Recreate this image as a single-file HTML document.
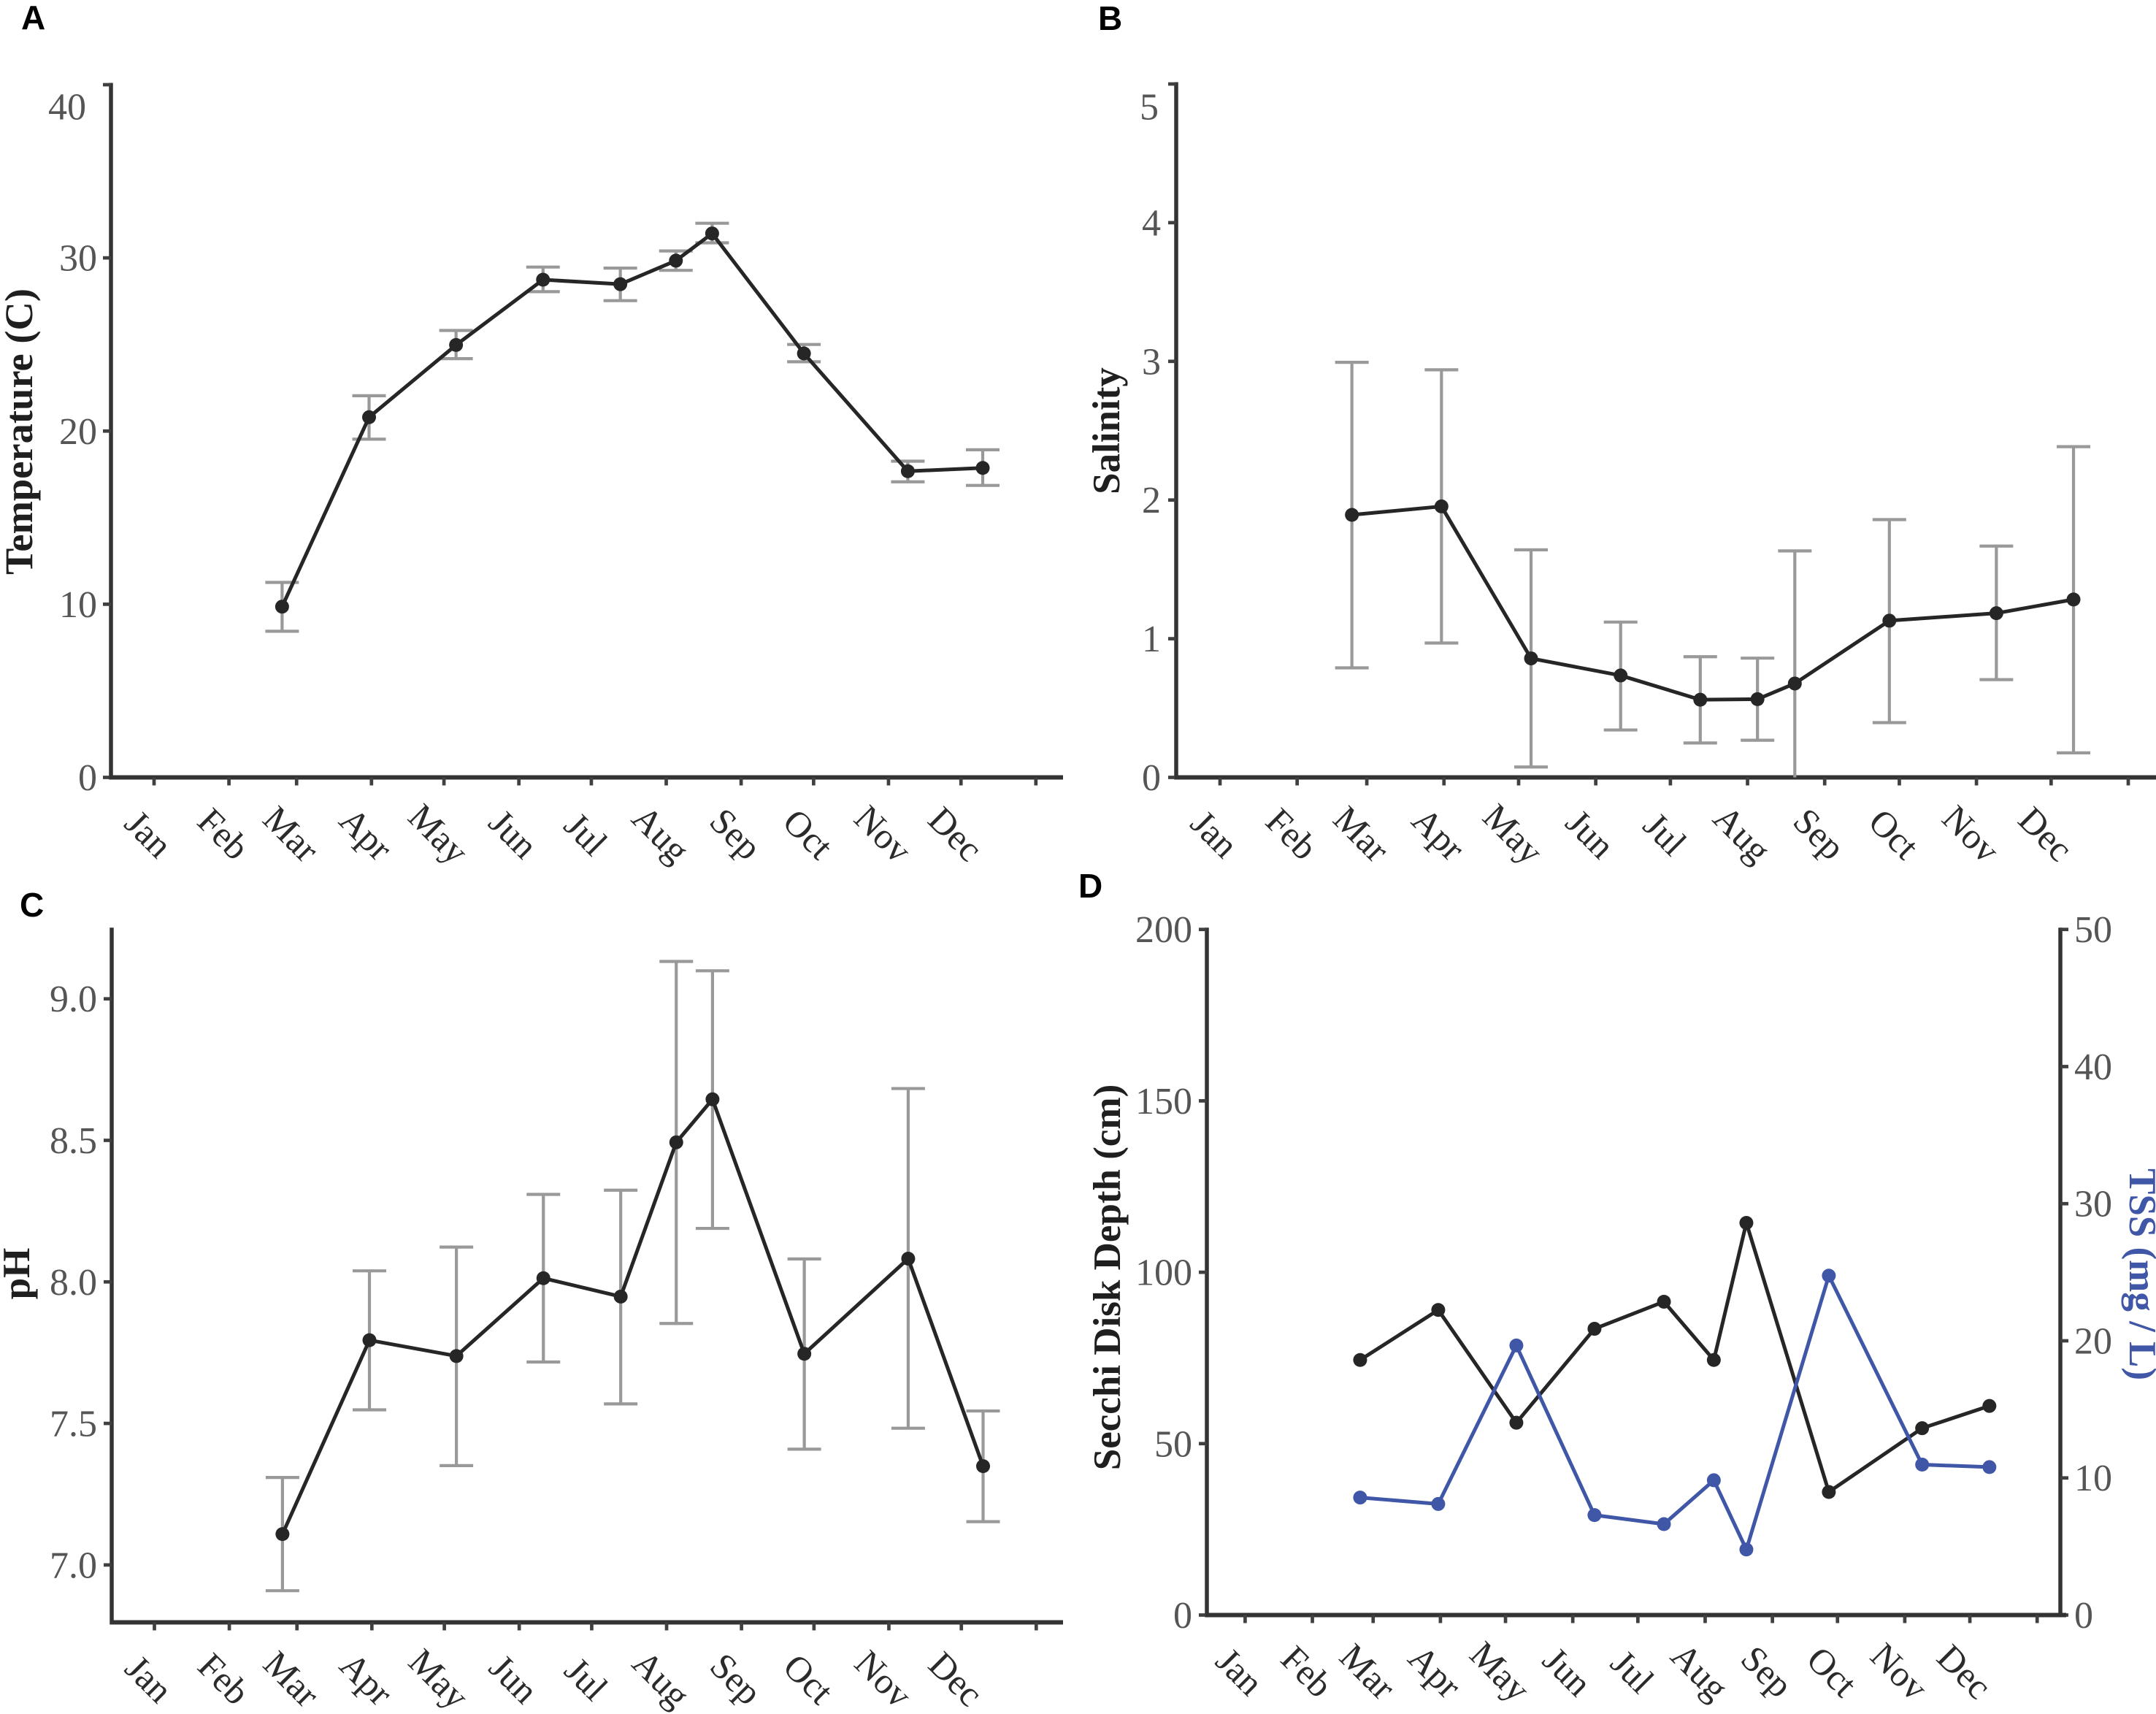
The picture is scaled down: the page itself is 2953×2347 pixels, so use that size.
<!DOCTYPE html>
<html lang="en">
<head>
<meta charset="utf-8">
<title>Monthly water quality panels</title>
<style>
  html, body { margin: 0; padding: 0; background: #ffffff; }
  svg { display: block; }
  text { font-family: "Liberation Serif", "Times New Roman", serif; }
  .panel-letter { font-family: "Liberation Sans", Arial, sans-serif; font-weight: bold; font-size: 46px; fill: #000; }
  .axis-title { font-weight: bold; font-size: 53px; fill: #1f1f1f; }
  .tick-label { font-size: 52px; fill: #555555; }
  .month-label { font-size: 50px; fill: #2b2b2b; }
</style>
</head>
<body>
<svg id="figure" xmlns="http://www.w3.org/2000/svg" width="2953" height="2347" viewBox="0 0 2953 2347">
  <rect x="0" y="0" width="2953" height="2347" fill="#ffffff"/>
  <text class="panel-letter" x="29" y="40">A</text>
  <text class="panel-letter" x="1504" y="41">B</text>
  <text class="panel-letter" x="27" y="1255">C</text>
  <text class="panel-letter" x="1477" y="1229">D</text>

  <text class="axis-title" text-anchor="middle" style="font-size:54.5px" transform="translate(44 591) rotate(-90)">Temperature (C)</text>
  <text class="axis-title" text-anchor="middle" transform="translate(1533 590) rotate(-90)">Salinity</text>
  <text class="axis-title" text-anchor="middle" transform="translate(40 1744) rotate(-90)">pH</text>
  <text class="axis-title" text-anchor="middle" transform="translate(1534 1749) rotate(-90)">Secchi Disk Depth (cm)</text>
  <text class="axis-title" text-anchor="middle" style="fill:#3f57a6" transform="translate(2917 1745) rotate(90)">TSS (mg / L)</text>
</svg>
<script>
// ---- shared categories ----
var monthLabels = ["Jan", "Feb", "Mar", "Apr", "May", "Jun", "Jul", "Aug", "Sep", "Oct", "Nov", "Dec"];
var monthStartDays = [0, 31, 59, 90, 120, 151, 181, 212, 243, 273, 304, 334, 365];
var sampleDays = [53, 89, 125, 161, 193, 216, 231, 269, 312, 343];

// ---- panel A: temperature ----
var tempTicks = [0, 10, 20, 30, 40];
var tempMean = [9.86, 20.8, 24.97, 28.74, 28.48, 29.84, 31.41, 24.48, 17.68, 17.87];
var tempUpper = [11.26, 22.04, 25.81, 29.47, 29.41, 30.4, 32.0, 25.0, 18.26, 18.92];
var tempLower = [8.44, 19.53, 24.18, 28.05, 27.53, 29.28, 30.87, 24.0, 17.07, 16.86];

// ---- panel B: salinity ----
var salinityTicks = [0, 1, 2, 3, 4, 5];
var salinityMean = [1.893, 1.954, 0.858, 0.735, 0.56, 0.564, 0.677, 1.13, 1.184, 1.283];
var salinityUpper = [2.993, 2.939, 1.641, 1.12, 0.87, 0.86, 1.633, 1.859, 1.668, 2.385];
var salinityLower = [0.79, 0.969, 0.075, 0.342, 0.248, 0.268, -0.28, 0.395, 0.705, 0.177];

// ---- panel C: pH ----
var phTicks = ["7.0", "7.5", "8.0", "8.5", "9.0"];
var phMean = [7.109, 7.794, 7.738, 8.013, 7.948, 8.493, 8.645, 7.746, 8.082, 7.349];
var phUpper = [7.309, 8.039, 8.123, 8.309, 8.324, 9.132, 9.099, 8.081, 8.683, 7.544];
var phLower = [6.909, 7.548, 7.351, 7.717, 7.569, 7.853, 8.189, 7.409, 7.483, 7.153];

// ---- panel D: secchi depth and TSS ----
var secchiTicks = [0, 50, 100, 150, 200];
var tssTicks = [0, 10, 20, 30, 40, 50];
var secchiDepth = [74.4, 89, 56.1, 83.5, 91.4, 74.4, 114.4, 35.9, 54.5, 61];
var tssValues = [8.57, 8.1, 19.66, 7.29, 6.63, 9.83, 4.78, 24.75, 10.97, 10.79];

var svg = document.getElementById('figure');
var NS = 'http://www.w3.org/2000/svg';
var AXIS = '#333333', TICK = '#404040', LINE = '#262626', ERR = '#999999', BLUE = '#3f57a6';

function make(tag, attrs, parent) {
  var el = document.createElementNS(NS, tag);
  for (var k in attrs) { el.setAttribute(k, attrs[k]); }
  parent.appendChild(el);
  return el;
}

function linear(d0, d1, r0, r1) {
  return function (v) { return r0 + (v - d0) * (r1 - r0) / (d1 - d0); };
}

function drawXAxis(g, p, x) {
  var line = make('line', { x1: p.axisX - 2, x2: p.xEnd, y1: p.baseY, y2: p.baseY, stroke: AXIS, 'stroke-width': 6 }, g);
  
  
  monthStartDays.forEach(function (day, i) {
    var tick = make('line', { x1: x(day), x2: x(day), y1: p.baseY, y2: p.baseY + 11, stroke: TICK, 'stroke-width': 4.7 }, g);
    
    
    if (i < monthLabels.length) {
      var label = make('text', {
        'class': 'month-label', 'text-anchor': 'middle',
        transform: 'translate(' + (x(day) - 8) + ' ' + (p.baseY + 78) + ') rotate(45)', y: 16
      }, g);
      
      
      label.textContent = monthLabels[i];
    }
  });
}

function drawYAxis(g, axisX, top, bottom, ticks, y, side, anchorX, topShiftX, topShiftY, name) {
  var line = make('line', { x1: axisX, x2: axisX, y1: top - 2.5, y2: bottom + 3, stroke: AXIS, 'stroke-width': 5.5 }, g);
  
  
  ticks.forEach(function (t, i) {
    var py = y(parseFloat(t));
    var tick = make('line', { x1: axisX, x2: axisX + side * 11, y1: py, y2: py, stroke: TICK, 'stroke-width': 4.7 }, g);
    
    
    var last = i === ticks.length - 1;
    var label = make('text', {
      'class': 'tick-label',
      'text-anchor': side < 0 ? 'end' : 'start',
      x: anchorX + (last ? topShiftX : 0),
      y: py + 17.5 + (last ? topShiftY : 0)
    }, g);
    
    
    label.textContent = t;
  });
}

function drawErrors(g, days, upper, lower, x, y, zeroY) {
  days.forEach(function (day, i) {
    var px = x(day);
    var yHi = y(upper[i]);
    var yLo = y(lower[i]);
    var stem = make('line', { x1: px, x2: px, y1: yHi, y2: Math.min(yLo, zeroY), stroke: ERR, 'stroke-width': 4.2 }, g);
    
    
    var capHi = make('line', { x1: px - 23, x2: px + 23, y1: yHi, y2: yHi, stroke: ERR, 'stroke-width': 4.2 }, g);
    
    
    if (yLo <= zeroY) {
      var capLo = make('line', { x1: px - 23, x2: px + 23, y1: yLo, y2: yLo, stroke: ERR, 'stroke-width': 4.2 }, g);
      
      
    }
  });
}

function drawSeries(g, days, values, x, y, color, name) {
  var pts = days.map(function (day, i) { return x(day) + ',' + y(values[i]); }).join(' ');
  var path = make('polyline', { points: pts, fill: 'none', stroke: color, 'stroke-width': 5, 'stroke-linejoin': 'round' }, g);
  
  
  days.forEach(function (day, i) {
    var dot = make('circle', { cx: x(day), cy: y(values[i]), r: 9.5, fill: color }, g);
    
    
  });
}

// Panel A
(function () {
  var g = make('g', {}, svg);
  
  
  var x = linear(0, 365, 211, 1418.8);
  var y = linear(0, 40, 1064.5, 116);
  drawYAxis(g, 152, 116, 1064.5, tempTicks, y, -1, 133, -15, 30, 'temperature');
  drawXAxis(g, { axisX: 152, baseY: 1064.5, xEnd: 1456 }, x);
  drawErrors(g, sampleDays, tempUpper, tempLower, x, y, 1064.5);
  drawSeries(g, sampleDays, tempMean, x, y, LINE, 'temperature');
})();

// Panel B
(function () {
  var g = make('g', {}, svg);
  
  
  var x = linear(0, 365, 1671, 2915);
  var y = linear(0, 5, 1064.5, 115);
  drawYAxis(g, 1611, 115, 1064.5, salinityTicks, y, -1, 1590, -3, 31, 'salinity');
  drawXAxis(g, { axisX: 1611, baseY: 1064.5, xEnd: 2953 }, x);
  drawErrors(g, sampleDays, salinityUpper, salinityLower, x, y, 1064.5);
  drawSeries(g, sampleDays, salinityMean, x, y, LINE, 'salinity');
})();

// Panel C
(function () {
  var g = make('g', {}, svg);
  
  
  var x = linear(0, 365, 211.5, 1419.3);
  var y = linear(7, 9, 2142.9, 1367.7);
  drawYAxis(g, 153, 1272.7, 2221.5, phTicks, y, -1, 133, 0, 0, 'ph');
  drawXAxis(g, { axisX: 153, baseY: 2221.5, xEnd: 1456 }, x);
  drawErrors(g, sampleDays, phUpper, phLower, x, y, 2221.5);
  drawSeries(g, sampleDays, phMean, x, y, LINE, 'ph');
})();

// Panel D
(function () {
  var g = make('g', {}, svg);
  
  
  var x = linear(0, 365, 1705.4, 2790.2);
  var yLeft = linear(0, 200, 2211.5, 1272.7);
  var yRight = linear(0, 50, 2211.5, 1272.7);
  drawYAxis(g, 1653, 1272.7, 2211.5, secchiTicks, yLeft, -1, 1633, 0, 0, 'secchi');
  drawYAxis(g, 2822, 1272.7, 2211.5, tssTicks, yRight, 1, 2841, 0, 0, 'tss');
  drawXAxis(g, { axisX: 1653, baseY: 2211.5, xEnd: 2830 }, x);
  drawSeries(g, sampleDays, secchiDepth, x, yLeft, LINE, 'secchi');
  drawSeries(g, sampleDays, tssValues, x, yRight, BLUE, 'tss');
})();
</script>
</body>
</html>
